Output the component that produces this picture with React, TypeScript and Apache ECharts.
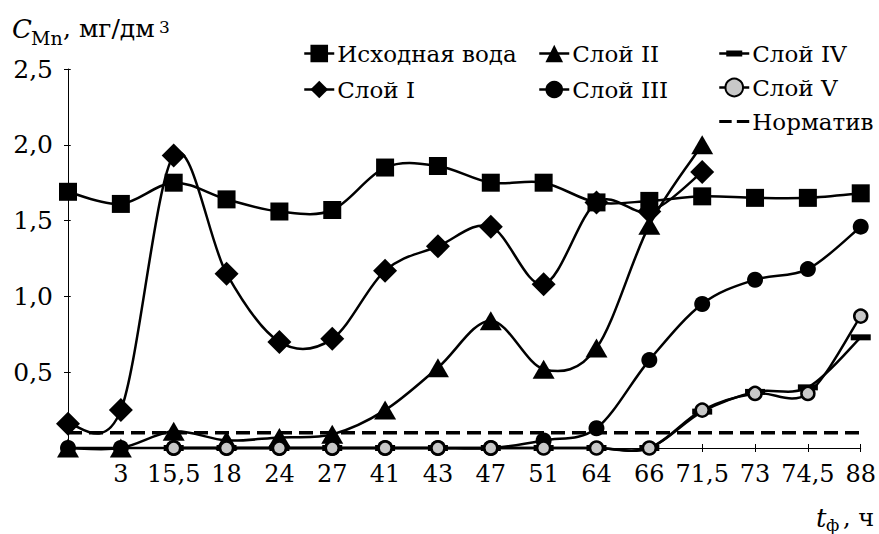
import React, { useEffect, useRef } from "react";
import * as echarts from "echarts";

// Filtration time, h (first point is the start, t = 0)
const categories = ["0", "3", "15,5", "18", "24", "27", "41", "43", "47", "51", "64", "66", "71,5", "73", "74,5", "88"];

// Mn concentration, mg/dm3
const sourceWater = [1.69, 1.61, 1.75, 1.64, 1.56, 1.57, 1.85, 1.86, 1.75, 1.75, 1.62, 1.63, 1.66, 1.65, 1.65, 1.68];
const layer1 = [0.16, 0.25, 1.93, 1.15, 0.70, 0.72, 1.17, 1.33, 1.46, 1.08, 1.62, 1.56, 1.82, null, null, null];
const layer2 = [0, 0, 0.11, 0.05, 0.07, 0.09, 0.25, 0.53, 0.84, 0.52, 0.66, 1.47, 2.0, null, null, null];
const layer3 = [0, 0, 0, 0, 0, 0, 0, 0, 0, 0.05, 0.13, 0.58, 0.95, 1.11, 1.18, 1.46];
const layer4 = [null, null, 0, 0, 0, 0, 0, 0, 0, 0, 0, 0, 0.24, 0.37, 0.40, 0.73];
const layer5 = [null, null, 0, 0, 0, 0, 0, 0, 0, 0, 0, 0, 0.25, 0.36, 0.36, 0.87];
const standard = [0.1, 0.1, 0.1, 0.1, 0.1, 0.1, 0.1, 0.1, 0.1, 0.1, 0.1, 0.1, 0.1, 0.1, 0.1, 0.1];

const yTicks = { min: 0, max: 2.5, interval: 0.5 };

const FONT = "DejaVu Serif";
const BLACK = "#000";
const GREY = "#c8c8c8";
const W = 879;
const H = 534;
const GRID = { left: 68, right: 17, top: 69, bottom: 86 };
const GRID_W = W - GRID.left - GRID.right;
const GRID_H = H - GRID.top - GRID.bottom;
const LINE_W = 2.5;

const barIcon = "path://M0,1.75L30,1.75L30,4.25L0,4.25Z M7,0L23,0L23,6L7,6Z";
const dashIcon = "path://M0,0L12,0L12,3L0,3Z M17,0L29,0L29,3L17,3Z";

// Catmull-Rom curve through the projected points, split at gaps
function curvePath(values: (number | null)[], api: any): string {
  const runs: number[][][] = [];
  let run: number[][] = [];
  values.forEach((v, i) => {
    if (v == null) {
      if (run.length) runs.push(run);
      run = [];
    } else {
      run.push(api.coord([i, v]));
    }
  });
  if (run.length) runs.push(run);

  let d = "";
  for (const pts of runs) {
    d += `M${pts[0][0]},${pts[0][1]}`;
    for (let k = 0; k < pts.length - 1; k++) {
      const p0 = pts[Math.max(k - 1, 0)];
      const p1 = pts[k];
      const p2 = pts[k + 1];
      const p3 = pts[Math.min(k + 2, pts.length - 1)];
      const c1x = p1[0] + (p2[0] - p0[0]) / 6;
      const c1y = p1[1] + (p2[1] - p0[1]) / 6;
      const c2x = p2[0] - (p3[0] - p1[0]) / 6;
      const c2y = p2[1] - (p3[1] - p1[1]) / 6;
      d += `C${c1x},${c1y},${c2x},${c2y},${p2[0]},${p2[1]}`;
    }
  }
  return d;
}

function curveSeries(values: (number | null)[]) {
  return {
    type: "custom",
    silent: true,
    data: [[0, 0]],
    renderItem: (_params: any, api: any) => ({
      type: "path",
      shape: { pathData: curvePath(values, api) },
      style: { fill: "none", stroke: BLACK, lineWidth: LINE_W },
    }),
  };
}

function markerSeries(name: string, data: (number | null)[], extra: any) {
  return {
    name,
    type: "line",
    data,
    lineStyle: { color: BLACK, width: LINE_W, opacity: 0 },
    itemStyle: { color: BLACK },
    ...extra,
  };
}

function layer(name: string, data: (number | null)[], extra: any) {
  return [curveSeries(data), markerSeries(name, data, extra)];
}

export default function App() {
  const ref = useRef<HTMLDivElement>(null);

  useEffect(() => {
    if (!ref.current) return;
    const chart = echarts.init(ref.current, undefined, { renderer: "svg" });

    const legendBase = {
      orient: "vertical",
      itemWidth: 30,
      itemHeight: 22,
      selectedMode: false,
      padding: 0,
      lineStyle: { color: BLACK, width: LINE_W, opacity: 1, type: "solid" },
      textStyle: { fontFamily: FONT, fontSize: 23, color: BLACK, padding: [0, 0, 0, -2] },
    };

    const text = (x: number, y: number, t: string, size: number, italic = false) => ({
      type: "text",
      x,
      y,
      style: {
        text: t,
        fontFamily: FONT,
        fontStyle: italic ? "italic" : "normal",
        fontSize: size,
        fill: BLACK,
        verticalAlign: "middle",
      },
    });

    const option: any = {
      animation: false,
      backgroundColor: "#fff",
      textStyle: { fontFamily: FONT },
      grid: { ...GRID },
      legend: [
        { ...legendBase, left: 303, top: 42, itemGap: 13, data: ["Исходная вода", "Слой I"] },
        { ...legendBase, left: 538, top: 42, itemGap: 13, data: ["Слой II", "Слой III"] },
        {
          ...legendBase,
          left: 718,
          top: 42,
          itemGap: 11,
          data: [{ name: "Слой IV", icon: barIcon }, "Слой V", { name: "Норматив", icon: dashIcon }],
        },
      ],
      xAxis: [
        {
          type: "category",
          data: categories,
          boundaryGap: false,
          axisLine: { lineStyle: { color: BLACK, width: 1 } },
          axisTick: { show: true, inside: false, length: 4, lineStyle: { color: BLACK } },
          axisLabel: {
            interval: (index: number) => index !== 0,
            fontFamily: FONT,
            fontSize: 24,
            color: BLACK,
            margin: 14,
          },
          splitLine: { show: false },
        },
        {
          type: "category",
          data: categories,
          boundaryGap: false,
          position: "top",
          offset: -GRID_H,
          axisLine: { show: false },
          axisTick: { show: true, inside: false, length: 4, lineStyle: { color: BLACK } },
          axisLabel: { show: false },
          splitLine: { show: false },
        },
      ],
      yAxis: [
        {
          type: "value",
          ...yTicks,
          axisLine: { show: true, lineStyle: { color: BLACK, width: 1 } },
          axisTick: { show: true, inside: false, length: 4, lineStyle: { color: BLACK } },
          axisLabel: {
            formatter: (v: number) => (v === 0 ? "" : v.toFixed(1).replace(".", ",")),
            fontFamily: FONT,
            fontSize: 25,
            color: BLACK,
            margin: 15,
          },
          splitLine: { show: false },
        },
        {
          type: "value",
          ...yTicks,
          position: "right",
          offset: -GRID_W,
          axisLine: { show: false },
          axisTick: { show: true, inside: false, length: 4, lineStyle: { color: BLACK } },
          axisLabel: { show: false },
          splitLine: { show: false },
        },
      ],
      series: [
        ...layer("Исходная вода", sourceWater, { symbol: "rect", symbolSize: 18 }),
        ...layer("Слой I", layer1, { symbol: "diamond", symbolSize: 24 }),
        ...layer("Слой II", layer2, { symbol: "triangle", symbolSize: [22, 19] }),
        ...layer("Слой III", layer3, { symbol: "circle", symbolSize: 16 }),
        ...layer("Слой IV", layer4, { symbol: "rect", symbolSize: [20, 6] }),
        ...layer("Слой V", layer5, {
          symbol: "circle",
          symbolSize: 13,
          itemStyle: { color: GREY, borderColor: BLACK, borderWidth: 2.5 },
        }),
        {
          name: "Норматив",
          type: "line",
          data: standard,
          symbol: "none",
          lineStyle: { color: BLACK, width: 3.5, type: [14, 7] },
          itemStyle: { color: BLACK },
        },
      ],
      graphic: [
        text(12, 29, "C", 26, true),
        text(31, 38, "Mn", 19),
        text(63, 28, ", мг/дм", 25),
        text(159, 27, "3", 17),
        text(816, 518, "t", 26, true),
        text(826, 525, "ф", 17),
        text(843, 518, ", ч", 24),
      ],
    };

    chart.setOption(option);
    return () => chart.dispose();
  }, []);

  return (
    <div
      ref={ref}
      style={{ position: "fixed", left: 0, top: 0, width: W, height: H, background: "#fff" }}
    />
  );
}
